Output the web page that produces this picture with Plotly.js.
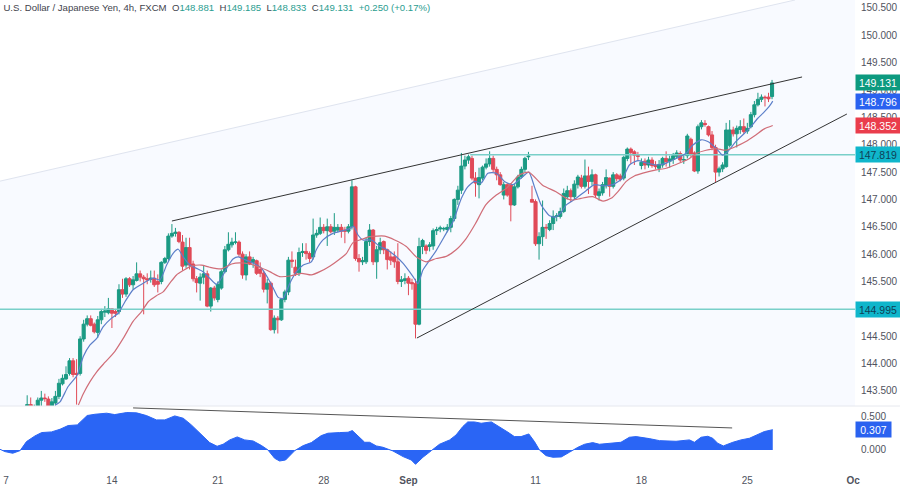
<!DOCTYPE html>
<html>
<head>
<meta charset="utf-8">
<script src="https://cdn.plot.ly/plotly-3.0.1.min.js"></script>
<style>html,body{margin:0;padding:0;background:#fff}#c{width:900px;height:489px}</style>
</head>
<body>
<div id="c"></div>
<script>
var firstBar = 6;
var openP = [
143.1,143.25,143.1,143.22,143.33,143.37,143.35,143.22,143.28,143.4,
143.63,143.72,143.82,144.05,143.82,143.82,144.45,144.72,144.82,144.72,
144.57,144.8,144.94,144.93,145.0,144.95,144.95,145.35,145.27,145.55,
145.44,145.52,145.64,145.58,145.55,145.54,145.56,145.5,145.5,145.85,
145.92,146.33,146.38,146.4,146.22,145.8,146.12,145.82,145.55,145.47,
145.58,145.64,145.05,145.38,145.17,145.38,145.68,146.08,146.17,146.22,
146.22,146.0,145.62,145.95,145.85,145.88,145.72,145.65,145.36,145.47,
144.62,144.83,144.8,145.17,145.31,145.89,145.76,145.66,146.03,146.05,
146.01,145.95,146.35,146.38,146.49,146.43,146.5,146.42,146.44,146.49,
146.44,146.42,146.5,147.23,145.92,145.86,145.86,146.23,146.44,145.86,
146.08,146.23,146.08,145.95,145.95,145.86,145.5,145.52,145.56,145.48,
145.46,144.72,146.14,146.15,146.14,146.15,146.43,146.46,146.46,146.45,
146.49,146.65,147.0,147.17,147.61,147.72,147.75,147.39,147.27,147.39,
147.59,147.65,147.75,147.55,147.45,147.08,147.27,147.27,146.9,147.23,
147.41,147.55,147.78,147.0,146.96,146.19,146.32,146.49,146.45,146.56,
146.69,146.69,146.78,147.05,147.16,147.05,147.27,147.39,147.24,147.43,
147.33,147.45,147.07,147.12,147.25,147.39,147.24,147.45,147.43,147.39,
147.75,147.92,147.87,147.8,147.62,147.7,147.63,147.72,147.63,147.57,
147.63,147.75,147.7,147.73,147.79,147.84,147.72,147.8,148.1,147.85,
147.52,148.33,148.39,148.33,148.18,147.95,147.5,147.56,147.6,147.99,
148.27,148.2,148.28,148.33,148.25,148.33,148.55,148.73,148.83,148.87,148.87,148.881];
var closeP = [
143.25,143.2,143.18,143.33,143.37,143.36,143.22,143.3,143.4,143.64,
143.73,143.8,144.05,143.8,143.8,144.45,144.72,144.82,144.7,144.58,
144.8,144.95,144.96,145.0,144.92,144.92,145.35,145.27,145.55,145.44,
145.53,145.64,145.58,145.55,145.53,145.56,145.44,145.45,145.85,145.92,
146.33,146.38,146.4,146.23,145.78,146.12,145.8,145.55,145.48,145.58,
145.64,145.05,145.38,145.2,145.45,145.68,146.08,146.18,146.22,146.22,
146.0,145.62,145.95,145.82,145.9,145.65,145.65,145.36,145.47,144.62,
144.83,144.8,145.17,145.31,145.89,145.87,145.65,146.03,146.05,146.01,
145.92,146.35,146.38,146.49,146.43,146.5,146.41,146.49,146.49,146.42,
146.42,146.5,147.23,145.92,145.86,145.88,146.23,146.44,145.86,146.08,
146.21,146.08,145.9,145.89,145.86,145.5,145.53,145.55,145.47,145.46,
144.72,146.14,146.25,146.07,146.17,146.43,146.45,146.48,146.47,146.49,
146.65,147.0,147.17,147.61,147.72,147.78,147.39,147.3,147.4,147.59,
147.65,147.75,147.55,147.45,147.27,147.27,147.08,146.9,147.23,147.41,
147.55,147.75,147.79,146.95,146.19,146.32,146.49,146.48,146.56,146.69,
146.7,146.78,147.11,147.16,147.05,147.28,147.41,147.24,147.43,147.33,
147.45,147.08,147.14,147.27,147.4,147.24,147.45,147.38,147.37,147.77,
147.92,147.86,147.81,147.79,147.68,147.63,147.72,147.62,147.6,147.64,
147.75,147.69,147.74,147.8,147.85,147.72,147.73,148.16,147.82,147.52,
148.33,148.4,148.37,148.18,147.95,147.5,147.56,147.63,148.27,148.27,
148.2,148.3,148.33,148.24,148.3,148.55,148.73,148.83,148.87,148.86,148.84,149.131];
var highP = [
143.42,143.38,143.25,143.38,143.5,143.45,143.4,143.37,143.5,143.72,
143.8,143.95,144.1,144.1,144.08,144.5,144.8,144.88,144.88,144.75,
144.87,145.0,145.05,145.2,145.0,145.0,145.45,145.55,145.58,145.58,
145.6,145.85,145.7,145.62,145.65,145.7,145.7,145.63,145.87,145.95,
146.38,146.55,146.48,146.42,146.35,146.3,146.3,145.88,145.6,145.65,
145.8,145.7,145.4,145.42,145.5,145.72,146.15,146.4,146.3,146.4,
146.25,146.05,146.0,146.05,145.95,145.9,145.85,145.7,145.55,145.5,
144.88,144.87,145.2,145.35,145.95,146.05,145.9,146.12,146.2,146.2,
146.05,146.65,146.45,146.67,146.55,146.65,146.55,146.75,146.55,146.55,
146.5,146.55,147.35,147.25,146.0,145.95,146.3,146.55,146.46,146.15,
146.3,146.25,146.1,146.05,146.05,146.2,145.6,145.65,145.6,145.55,
145.55,146.3,146.28,146.18,146.22,146.47,146.5,146.52,146.5,146.55,
146.7,147.02,147.25,147.85,147.8,147.82,147.8,147.5,147.58,147.62,
147.75,147.88,147.8,147.6,147.5,147.32,147.3,147.3,147.28,147.45,
147.6,147.78,147.87,147.25,147.0,146.4,146.98,146.55,146.62,146.8,
146.75,146.85,147.2,147.25,147.2,147.35,147.45,147.45,147.73,147.6,
147.55,147.47,147.2,147.32,147.55,147.4,147.5,147.48,147.47,147.8,
147.95,147.95,147.9,147.87,147.75,147.75,147.78,147.77,147.7,147.72,
147.78,147.88,147.8,147.85,147.9,147.88,147.82,148.2,148.13,147.88,
148.37,148.45,148.45,148.35,148.25,148.0,147.6,147.68,148.4,148.45,
148.33,148.35,148.45,148.48,148.4,148.6,148.8,148.95,148.92,148.9,148.95,149.185];
var lowP = [
143.0,143.05,143.0,143.18,143.2,143.3,143.15,143.15,143.2,143.35,
143.6,143.7,143.78,143.75,143.25,143.78,144.4,144.68,144.68,144.55,
144.47,144.72,144.85,144.9,144.65,144.85,144.9,145.2,145.22,145.4,
145.35,145.5,145.5,144.9,145.45,145.48,145.4,145.3,145.45,145.82,
145.88,146.3,146.32,146.2,145.7,145.75,145.72,145.5,145.3,145.15,
145.45,145.03,144.95,145.15,145.12,145.35,145.65,146.05,146.12,146.18,
145.95,145.55,145.52,145.8,145.75,145.62,145.58,145.3,145.1,144.6,
144.55,144.55,144.78,145.12,145.25,145.75,145.6,145.6,145.95,145.9,
145.85,145.9,146.3,146.35,146.38,146.15,146.38,146.35,146.4,146.3,
146.2,146.38,146.45,145.88,145.68,145.8,145.82,146.15,145.8,145.55,
146.0,146.0,145.72,145.8,145.75,145.45,145.4,145.45,145.25,145.35,
144.46,144.7,146.0,146.0,146.05,146.08,146.35,146.4,146.42,146.4,
146.4,146.6,146.9,147.1,147.55,147.65,147.35,147.05,147.02,147.35,
147.55,147.6,147.5,147.35,147.25,147.0,147.05,146.6,146.88,147.2,
147.38,147.5,147.72,146.95,146.15,145.9,146.15,146.28,146.42,146.44,
146.6,146.65,146.75,147.0,146.95,147.0,147.2,147.2,147.2,147.1,
147.25,147.03,146.98,147.07,147.2,147.05,147.2,147.33,147.33,147.35,
147.7,147.65,147.63,147.7,147.55,147.55,147.58,147.58,147.55,147.5,
147.58,147.6,147.58,147.65,147.75,147.68,147.65,147.75,147.78,147.5,
147.47,148.28,148.33,148.15,147.9,147.32,147.42,147.5,147.58,147.95,
148.15,147.95,148.2,148.2,148.2,148.3,148.5,148.7,148.78,148.7,148.78,148.833];

var fastIdx = [13.9,15.3,17.6,19.5,20.2,21.9,23.8,25.7,27.5,29.9,31.8,33.7,36,38.9,41.7,43.6,45.5,47.4,48.8,50.2,52.1,54,55.8,57.7,59.6,61,62.5,64.3,65.8,67.6,70,72.4,74.2,75.7,77.1,78.5,80.4,82.3,84.2,86.5,87.9,89.8,92.6,95.5,97.4,98.5,99.7,101.1,103.5,105.9,107.7,110.1,112.5,115.3,116.7,118.1,120,121.9,124.7,126.6,129,130.8,132.7,134.6,136.5,138.9,141.2,143.6,145.9,148.1,149.7,151.6,154,155.8,157.7,158.7,161.5,164.3,166.7,169.1,171.9,174.7,176.6,179,181.3,184.1,186.9,189.8,192.6,194.5,196.9,198.8,201.1,203,204.4,206.8,209.2,211,212.9,214.8,216.2,217.2];
var fastVal = [143.24,143.3,143.58,143.73,143.79,144.13,144.34,144.46,144.67,144.83,144.92,145.13,145.35,145.47,145.56,145.53,145.8,146.02,146.09,145.95,145.8,145.74,145.68,145.56,145.45,145.56,145.74,145.91,145.95,145.9,145.84,145.74,145.56,145.38,145.21,145.19,145.47,145.68,145.8,145.86,146.08,146.26,146.38,146.43,146.47,146.51,146.35,146.26,146.26,146.14,146.09,145.98,145.83,145.59,145.46,145.71,145.89,146.07,146.38,146.59,147.02,147.23,147.33,147.3,147.48,147.48,147.33,147.27,147.39,147.5,147.23,146.9,146.7,146.68,146.8,146.9,147.02,147.16,147.27,147.25,147.27,147.39,147.63,147.71,147.67,147.63,147.66,147.75,147.84,147.99,148.09,148.06,147.94,147.81,147.87,148.06,148.21,148.33,148.48,148.6,148.7,148.796];
var slowIdx = [20.5,21.9,23.8,25.7,28,30.8,33.2,36,38.4,40.3,42.6,44.5,46.4,48.3,50.2,52.5,55.4,57.7,61,63.9,66.2,69,71.9,74.7,77.5,80.4,83.7,86.5,88.9,91.7,94.1,96.4,98.3,100.7,103,107.3,110.1,113.4,116.2,119,121.9,124.7,127.5,130.4,133,135.9,138.9,141.7,145.5,148.1,152,155.8,158.7,160.6,162.9,166.2,169.1,171.4,173.3,175.7,178,180.4,184.2,187,189.8,193.1,195.5,198.3,201.1,203.9,206.8,209.6,212.4,214.8,217.2];
var slowVal = [143.24,143.45,143.67,143.85,144.02,144.22,144.46,144.77,144.95,145.13,145.24,145.31,145.47,145.62,145.7,145.78,145.8,145.76,145.73,145.82,145.84,145.82,145.76,145.68,145.59,145.6,145.65,145.62,145.68,145.78,145.89,146.01,146.21,146.27,146.32,146.33,146.26,146.14,145.95,145.86,145.92,145.96,146.08,146.29,146.56,146.9,147.08,147.2,147.45,147.5,147.26,147.14,147.02,146.99,147.02,147.05,146.97,147.02,147.14,147.33,147.43,147.48,147.54,147.57,147.64,147.73,147.84,147.9,147.93,147.9,147.97,148.06,148.18,148.29,148.352];

var oscIdx = [-1.7,-0.3,1.9,4,5.8,8.2,10.1,12.9,15.3,17.6,20.2,23,25.2,28.5,30.8,34.2,37,39.8,42.6,45,47.8,50.2,52.5,54.9,57.7,59.8,61.5,63.4,65.5,67.6,70,72.4,74.2,76.1,77.5,79.2,81.8,84.2,86.5,89.3,91.2,94.5,96.9,98.1,99.7,101.6,103,104.9,106.8,109.6,112.5,114.8,116,118.1,120.5,122.8,125.7,127.5,129.4,130.8,132.7,134.6,137.5,139.8,142.2,144,145.9,148.1,149.7,151.1,153,154.9,157.3,159.6,162,163.9,166.2,168.1,171,174.2,176.6,178.5,182.2,185.1,189.8,191.7,193.6,195,196.9,198.8,200.2,201.6,203.2,205.9,208.2,210.6,213,214.8,217.2];
var oscVal = [0.01,-0.025,-0.05,-0.01,0.126,0.212,0.263,0.273,0.313,0.369,0.379,0.521,0.54,0.556,0.535,0.566,0.561,0.52,0.455,0.455,0.515,0.48,0.379,0.253,0.111,0.056,0.086,0.152,0.197,0.152,0.136,0.066,0,-0.126,-0.167,-0.152,-0.01,0.066,0.111,0.217,0.253,0.263,0.268,0.293,0.212,0.116,0.116,0.061,0.04,-0.015,-0.101,-0.152,-0.217,-0.111,-0.01,0.086,0.152,0.227,0.354,0.424,0.424,0.404,0.424,0.354,0.268,0.202,0.202,0.242,0.126,0,-0.086,-0.111,-0.106,-0.035,0.04,0.086,0.111,0.086,0.101,0.116,0.192,0.202,0.172,0.141,0.131,0.141,0.152,0.116,0.192,0.207,0.177,0.101,0.061,0.116,0.152,0.177,0.237,0.278,0.307];

var upperIdx = [47,225.5];       var upperVal = [146.606,149.239];
var lowerIdx = [116.4,238.2];    var lowerVal = [144.467,148.562];
var channelIdx = [-2,223.5,241]; var channelVal = [147.33,150.646,150.9];
var oscTrendIdx = [36,205.7];    var oscTrendVal = [0.636,0.333];
var levelLowIdx = [-2,241];      var levelLowVal = [144.995,144.995];
var levelHighIdx = [131.5,241];  var levelHighVal = [147.819,147.819];

var priceTicks = [143.5,144,144.5,145,145.5,146,146.5,147,147.5,148,148.5,149,149.5,150,150.5];
var oscTicks = [0,0.5];
var dateTickIdx = [0,30,60,90,114,150,180,210,240];
var dateTickText = ['7','14','21','28','<b>Sep</b>','11','18','25','<b>Oc</b>'];

var tagValues = [149.131,148.796,148.352,147.819,144.995];
var tagColors = ['#0d9a7f','#2a62f0','#ea3d4c','#0fb6cb','#0fb6cb'];
var tagText = ['#ffffff','#ffffff','#ffffff','#0f3f55','#0f3f55'];
var oscTagValue = 0.307;

var legendName = 'U.S. Dollar / Japanese Yen, 4h, FXCM';
var legendO = '148.881', legendH = '149.185', legendL = '148.833', legendC = '149.131';
var legendChange = '+0.250 (+0.17%)';

var FONT = '"Liberation Sans", Arial, sans-serif';
var barX = openP.map(function(_, k){ return firstBar + k; });

var traces = [
  {type:'candlestick', x:barX, open:openP, high:highP, low:lowP, close:closeP,
   xaxis:'x', yaxis:'y', whiskerwidth:0, hoverinfo:'skip',
   increasing:{line:{color:'#1b9a84',width:1}, fillcolor:'#1b9a84'},
   decreasing:{line:{color:'#e04a58',width:1}, fillcolor:'#e04a58'}},
  {type:'scatter', mode:'lines', x:levelLowIdx, y:levelLowVal, xaxis:'x', yaxis:'y', line:{color:'#79cfc9',width:1.5}},
  {type:'scatter', mode:'lines', x:levelHighIdx, y:levelHighVal, xaxis:'x', yaxis:'y', line:{color:'#79cfc9',width:1.5}},
  {type:'scatter', mode:'lines', x:fastIdx, y:fastVal, xaxis:'x', yaxis:'y', line:{color:'#5c7fc9',width:1.2,shape:'spline',smoothing:0.6}},
  {type:'scatter', mode:'lines', x:slowIdx, y:slowVal, xaxis:'x', yaxis:'y', line:{color:'#d06d78',width:1.2,shape:'spline',smoothing:0.6}},
  {type:'scatter', mode:'lines', x:upperIdx, y:upperVal, xaxis:'x', yaxis:'y', line:{color:'#333333',width:1}},
  {type:'scatter', mode:'lines', x:lowerIdx, y:lowerVal, xaxis:'x', yaxis:'y', line:{color:'#333333',width:1}},
  {type:'scatter', mode:'lines', x:oscIdx, y:oscVal, xaxis:'x2', yaxis:'y2', fill:'tozeroy', fillcolor:'#2a65f5', line:{color:'#2a65f5',width:1}},
  {type:'scatter', mode:'lines', x:oscTrendIdx, y:oscTrendVal, xaxis:'x2', yaxis:'y2', cliponaxis:false, line:{color:'#555555',width:1}}
];

var channelPath = 'M ' + channelIdx.map(function(v,k){ return v + ' ' + channelVal[k]; }).join(' L ') +
                  ' L ' + channelIdx[2] + ' 143 L ' + channelIdx[0] + ' 143 Z';

var xRange = [-1.7, 240.5];
var tags = tagValues.map(function(v,k){
  return {xref:'paper', yref:'y', x:1, y:v, xanchor:'left', yanchor:'middle', showarrow:false,
          text:v.toFixed(3), width:44, height:15, bgcolor:tagColors[k], align:'center',
          font:{family:FONT,size:10.5,color:tagText[k]}, borderpad:0};
});
tags.push({xref:'paper', yref:'y2', x:1, y:oscTagValue, xanchor:'left', yanchor:'middle', showarrow:false,
           text:oscTagValue.toFixed(3), width:35, height:15, bgcolor:'#2a62f0', align:'center',
           font:{family:FONT,size:10.5,color:'#ffffff'}, borderpad:0});

var G = '#2a9d8f', T = '#3f434d';
function c(col, s){ return '<span style="color:'+col+'">'+s+'</span>'; }
var GAP = '&nbsp;&nbsp;';
var titleText = c(T, legendName) + GAP + c(T,'O') + c(G,legendO) + GAP + c(T,'H') + c(G,legendH) +
  GAP + c(T,'L') + c(G,legendL) + GAP + c(T,'C') + c(G,legendC) + GAP + c(G,legendChange);

var layout = {
  width:900, height:489, autosize:false, showlegend:false,
  paper_bgcolor:'#ffffff', plot_bgcolor:'#ffffff',
  margin:{l:0,r:45,t:0,b:22,pad:0},
  boxgap:0.12, boxgroupgap:0,
  title:{text:titleText, x:0.004, xref:'paper', xanchor:'left', y:0.985, yref:'container', yanchor:'middle',
         font:{family:FONT,size:9.6,color:T}},
  xaxis:{domain:[0,1], range:xRange, anchor:'y', showticklabels:false, showgrid:false, zeroline:false, showline:false, ticks:'', rangeslider:{visible:false}},
  xaxis2:{domain:[0,1], range:xRange, anchor:'y2', tickmode:'array', tickvals:dateTickIdx, ticktext:dateTickText, ticks:'', showgrid:false, zeroline:false, showline:false,
          ticklabelstandoff:6, tickfont:{family:FONT,size:10,color:'#50535e'}},
  yaxis:{domain:[0.1306,1], range:[143.224,150.646], side:'right', anchor:'x', tickmode:'array', tickvals:priceTicks,
         ticktext:priceTicks.map(function(v){return v.toFixed(3);}), ticks:'', showgrid:false, zeroline:false, showline:false,
         ticklabelstandoff:5, tickfont:{family:FONT,size:10,color:'#50535e'}},
  yaxis2:{domain:[0,0.1285], range:[-0.258,0.65], side:'right', anchor:'x2', tickmode:'array', tickvals:oscTicks,
          ticktext:oscTicks.map(function(v){return v.toFixed(3);}), ticks:'', showgrid:false, zeroline:false, showline:false,
          ticklabelstandoff:5, tickfont:{family:FONT,size:10,color:'#50535e'}},
  shapes:[
    {type:'path', layer:'below', xref:'x', yref:'y', path:channelPath, fillcolor:'#f8faff', line:{color:'rgba(0,0,0,0)',width:0}},
    {type:'line', layer:'below', xref:'x', yref:'y', x0:channelIdx[0], y0:channelVal[0], x1:channelIdx[1], y1:channelVal[1], line:{color:'#dfe4ef',width:1}},
    {type:'line', layer:'above', xref:'paper', yref:'paper', x0:0, x1:1.0526, y0:0.1306, y1:0.1306, line:{color:'#e6e8ee',width:1}}
  ],
  annotations:tags,
  hovermode:false
};
Plotly.newPlot('c', traces, layout, {displayModeBar:false, staticPlot:true});
</script>
</body>
</html>
